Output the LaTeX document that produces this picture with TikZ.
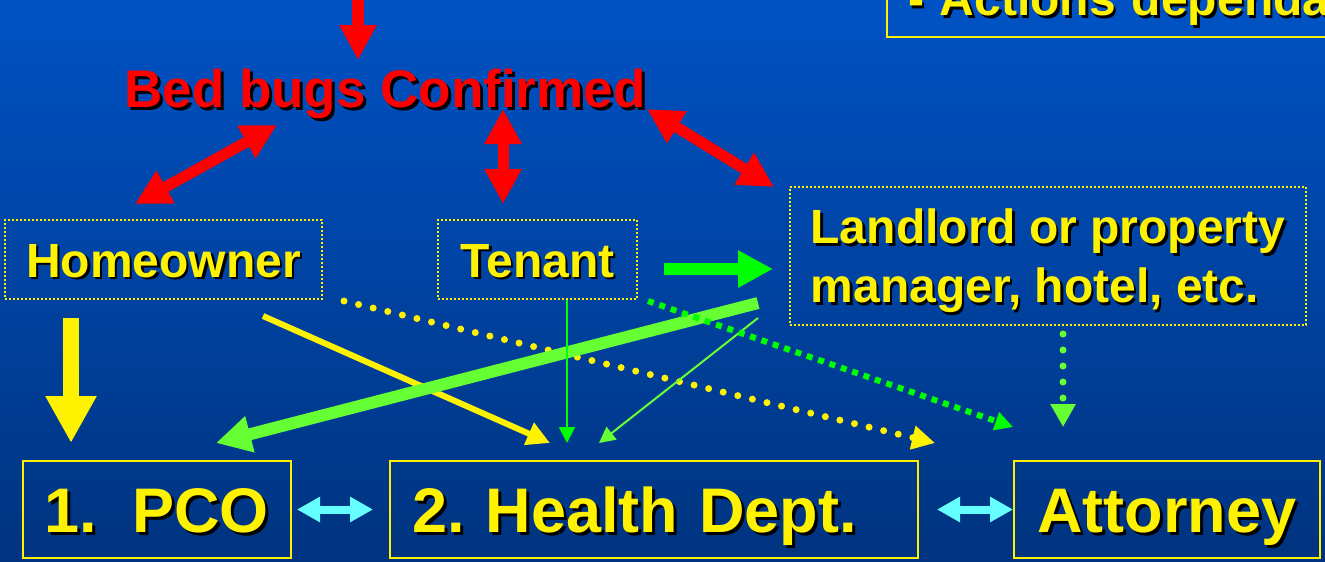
\documentclass[tikz,border=0pt]{standalone}
\usepackage{fontspec}
\setmainfont{Liberation Sans}
\usetikzlibrary{arrows.meta,calc}

\definecolor{slidetop}{RGB}{0,82,196}
\definecolor{slidebot}{RGB}{0,51,127}
\definecolor{lime}{RGB}{102,255,51}
\definecolor{pgreen}{RGB}{0,255,0}
\definecolor{lcyan}{RGB}{102,255,255}

% text with a black drop shadow
\newcommand{\shd}[2][3pt]{\leavevmode\rlap{\kern#1\raisebox{-#1}{\color{black}#2}}#2}
\frenchspacing

\begin{document}
\begin{tikzpicture}[x=1pt,y=-1pt,
    dotbox/.style={draw=yellow,line width=2pt,dash pattern=on 2pt off 2pt,
      text=yellow,font=\fontsize{48}{59}\selectfont\bfseries,inner sep=0pt},
    oneline/.style={text height=35pt,text depth=0pt},
    solidbox/.style={draw=yellow,line width=2pt,text=yellow,
      font=\fontsize{63}{70}\selectfont\bfseries,
      text height=45pt,text depth=0pt,inner sep=0pt,minimum height=97pt},
    redboth/.style={draw=red,line width=11pt,
      {Triangle[length=35pt,width=35pt]}-{Triangle[length=35pt,width=35pt]}},
    fat/.style={line width=12pt,-{Triangle[length=35pt,width=35pt]}},
    thin/.style={line width=2pt,-{Triangle[length=16pt,width=16pt]}},
    dots/.style={line width=7pt,line cap=round,dash pattern=on 0pt off #1},
    squares/.style={line width=6pt,dash pattern=on 6pt off 6pt,
      -{Triangle[length=18pt,width=18pt]}},
    cyanboth/.style={draw=lcyan,line width=8pt,
      {Triangle[length=23pt,width=24pt]}-{Triangle[length=23pt,width=24pt]}}]
    \useasboundingbox (0,0) rectangle (1325,562);
    \clip (0,0) rectangle (1325,562);
    \shade[top color=slidetop,bottom color=slidebot] (0,0) rectangle (1325,562);

    % note box running off the top right corner
    \node[draw=yellow,line width=2pt,text=yellow,anchor=south west,
      font=\fontsize{48}{59}\selectfont\bfseries,text width=560pt,align=left,
      inner xsep=21pt,inner ysep=10pt,text height=35pt,text depth=11pt]
      (note) at (886,38) {\shd[2.5pt]{- Actions dependant}};

    \node[text=red,font=\fontsize{53}{60}\selectfont\bfseries,anchor=base,inner sep=0pt]
      (bed) at (385,107) {\shd{Bed bugs Confirmed}};

    \node[dotbox,oneline,minimum width=317pt,minimum height=79pt]
      (hown) at (163.5,259.5) {\shd[2.5pt]{Homeowner}};
    \node[dotbox,oneline,minimum width=199pt,minimum height=79pt]
      (tenant) at (537.5,259.5) {\shd[2.5pt]{Tenant}};
    \node[dotbox,minimum width=516pt,minimum height=138pt,align=left]
      (land) at (1048,256)
      {\rule{0pt}{47pt}\shd[2.5pt]{Landlord or property}\\\shd[2.5pt]{manager, hotel, etc.}};

    \node[solidbox,minimum width=268pt] (pco) at (157,509.5) {\shd{1.\ \ PCO}};
    \node[solidbox,text width=484pt,align=left,inner xsep=22pt]
      (health) at (654,509.5) {\shd{2. Health Dept.}};
    \node[solidbox,minimum width=306pt] (attorney) at (1167,509.5) {\shd{Attorney}};

    % red arrows round the confirmation
    \coordinate (inflow) at (358,-5);
    \draw[fat,red] (inflow) -- ([xshift=-27pt,yshift=47pt]bed.base);
    \draw[redboth] ([xshift=-108pt,yshift=-18pt]bed.base) -- ([xshift=-28.5pt,yshift=15pt]hown.north);
    \draw[redboth] ([xshift=118pt,yshift=-2pt]bed.base) -- ([xshift=-34.5pt,yshift=15pt]tenant.north);
    \draw[redboth] ([xshift=262pt,yshift=-2pt]bed.base) -- ([xshift=-15pt,yshift=-1pt]land.north west);

    % homeowner
    \draw[yellow,line width=16pt,-{Triangle[length=47pt,width=48pt]}]
      ([xshift=-92.5pt,yshift=-18pt]hown.south) -- ([xshift=-86pt,yshift=17pt]pco.north);
    \draw[yellow,line width=6pt,-{Triangle[length=23pt,width=23pt]}]
      ([xshift=99.5pt,yshift=-16pt]hown.south) -- ([xshift=-104pt,yshift=17pt]health.north);
    \draw[yellow,dots=15pt,-{Triangle[length=23pt,width=23pt]}]
      ([xshift=21pt,yshift=-1pt]hown.south east) -- ([xshift=16pt,yshift=17pt]health.north east);

    % tenant and landlord
    \draw[fat,pgreen] ([xshift=26pt,yshift=-9.5pt]tenant.east) -- ([xshift=-16pt,yshift=-13pt]land.west);
    \draw[fat,lime] ([xshift=-31pt,yshift=23pt]land.south west) -- ([xshift=-76pt,yshift=17pt]pco.north east);
    \draw[thin,pgreen] ([xshift=29.5pt]tenant.south) -- ([xshift=-87pt,yshift=17pt]health.north);
    \draw[thin,lime] ([xshift=-31pt,yshift=8pt]land.south west) -- ([xshift=-55pt,yshift=17pt]health.north);
    \draw[squares,pgreen] ([xshift=10pt,yshift=-1pt]tenant.south east) -- ([yshift=33pt]attorney.north west);
    \draw[lime,dots=16pt,-{Triangle[length=23pt,width=24pt]}]
      ([xshift=15pt,yshift=-8pt]land.south) -- ([xshift=-104pt,yshift=33pt]attorney.north);

    \foreach \a/\b/\s/\t in {pco/health/5pt/-16pt, health/attorney/18pt/0pt}
      \draw[cyanboth] ([xshift=\s]\a.east) -- ([xshift=\t]\b.west);
\end{tikzpicture}
\end{document}
